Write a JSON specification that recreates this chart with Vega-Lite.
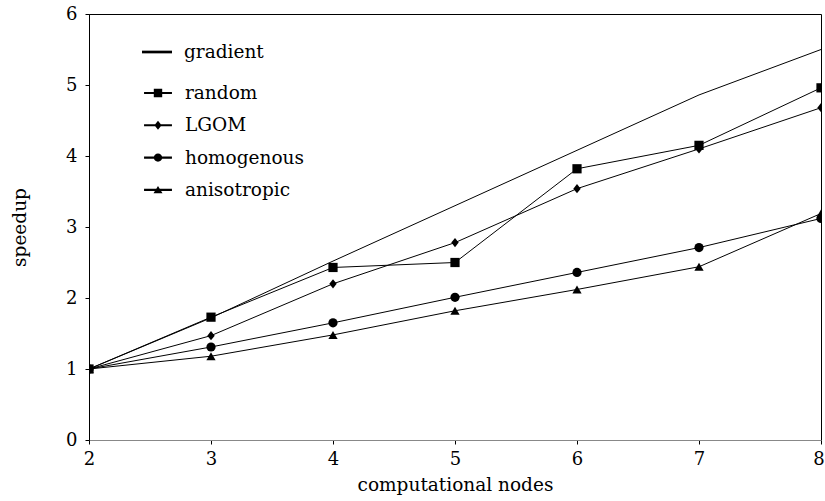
{
  "$schema": "https://vega.github.io/schema/vega-lite/v6.json",
  "width": 732,
  "height": 426,
  "autosize": {"type": "none"},
  "padding": {"left": 89, "top": 14, "right": 4, "bottom": 61},
  "background": "white",
  "config": {
    "view": {"stroke": "black", "strokeWidth": 1},
    "font": "DejaVu Serif",
    "axis": {
      "grid": false,
      "domainColor": "black",
      "tickColor": "black",
      "tickSize": 4,
      "labelColor": "black",
      "labelFont": "DejaVu Serif",
      "labelFontSize": 18,
      "titleFont": "DejaVu Serif",
      "titleFontSize": 18.5,
      "titleFontWeight": "normal",
      "titleColor": "black"
    }
  },
  "data": {
    "values": [
      {"nodes": 2, "speedup": 1.0, "method": "gradient"},
      {"nodes": 3, "speedup": 1.72, "method": "gradient"},
      {"nodes": 4, "speedup": 2.52, "method": "gradient"},
      {"nodes": 5, "speedup": 3.3, "method": "gradient"},
      {"nodes": 6, "speedup": 4.08, "method": "gradient"},
      {"nodes": 7, "speedup": 4.86, "method": "gradient"},
      {"nodes": 8, "speedup": 5.5, "method": "gradient"},
      {"nodes": 2, "speedup": 1.0, "method": "random"},
      {"nodes": 3, "speedup": 1.73, "method": "random"},
      {"nodes": 4, "speedup": 2.43, "method": "random"},
      {"nodes": 5, "speedup": 2.5, "method": "random"},
      {"nodes": 6, "speedup": 3.82, "method": "random"},
      {"nodes": 7, "speedup": 4.15, "method": "random"},
      {"nodes": 8, "speedup": 4.96, "method": "random"},
      {"nodes": 2, "speedup": 1.0, "method": "LGOM"},
      {"nodes": 3, "speedup": 1.47, "method": "LGOM"},
      {"nodes": 4, "speedup": 2.2, "method": "LGOM"},
      {"nodes": 5, "speedup": 2.78, "method": "LGOM"},
      {"nodes": 6, "speedup": 3.54, "method": "LGOM"},
      {"nodes": 7, "speedup": 4.1, "method": "LGOM"},
      {"nodes": 8, "speedup": 4.68, "method": "LGOM"},
      {"nodes": 2, "speedup": 1.0, "method": "homogenous"},
      {"nodes": 3, "speedup": 1.31, "method": "homogenous"},
      {"nodes": 4, "speedup": 1.65, "method": "homogenous"},
      {"nodes": 5, "speedup": 2.01, "method": "homogenous"},
      {"nodes": 6, "speedup": 2.36, "method": "homogenous"},
      {"nodes": 7, "speedup": 2.71, "method": "homogenous"},
      {"nodes": 8, "speedup": 3.12, "method": "homogenous"},
      {"nodes": 2, "speedup": 1.0, "method": "anisotropic"},
      {"nodes": 3, "speedup": 1.18, "method": "anisotropic"},
      {"nodes": 4, "speedup": 1.48, "method": "anisotropic"},
      {"nodes": 5, "speedup": 1.82, "method": "anisotropic"},
      {"nodes": 6, "speedup": 2.12, "method": "anisotropic"},
      {"nodes": 7, "speedup": 2.44, "method": "anisotropic"},
      {"nodes": 8, "speedup": 3.19, "method": "anisotropic"}
    ]
  },
  "encoding": {
    "x": {
      "field": "nodes", "type": "quantitative",
      "scale": {"domain": [2, 8], "nice": false},
      "axis": {"values": [2, 3, 4, 5, 6, 7, 8], "title": "computational nodes", "domainColor": "#888888", "labelPadding": 6, "titlePadding": 7, "format": "d", "labelFlush": false,
        "labelOffset": {"condition": {"test": "datum.value === 8", "value": -2.5}, "value": 0}}
    },
    "y": {
      "field": "speedup", "type": "quantitative",
      "scale": {"domain": [0, 6], "nice": false},
      "axis": {"values": [0, 1, 2, 3, 4, 5, 6], "title": "speedup", "labelPadding": 8, "titlePadding": 36, "format": "d", "labelFlush": false}
    }
  },
  "layer": [
    {
      "mark": {"type": "line", "color": "black", "strokeWidth": 1, "clip": true},
      "encoding": {"detail": {"field": "method"}}
    },
    {
      "transform": [{"filter": "datum.method !== 'gradient'"}],
      "mark": {"type": "point", "filled": true, "color": "black", "opacity": 1, "size": 85, "clip": true},
      "encoding": {
        "shape": {
          "field": "method", "type": "nominal",
          "scale": {"domain": ["random", "LGOM", "homogenous", "anisotropic"], "range": ["square", "M0,-1L0.8,0L0,1L-0.8,0Z", "circle", "triangle-up"]},
          "legend": null
        }
      }
    },
    {
      "transform": [{"filter": "datum.method !== 'gradient' && datum.speedup < 0"}],
      "mark": {"type": "point", "filled": true, "color": "black", "opacity": 1},
      "encoding": {
        "shape": {
          "field": "method", "type": "nominal",
          "scale": {"domain": ["random", "LGOM", "homogenous", "anisotropic"], "range": [
            "M-0.93,-0.07H0.93V0.07H-0.93Z M-0.28,-0.28H0.28V0.28H-0.28Z",
            "M-0.93,-0.07H0.93V0.07H-0.93Z M0,-0.3L0.24,0L0,0.3L-0.24,0Z",
            "M-0.93,-0.07H0.93V0.07H-0.93Z M-0.28,0A0.28,0.28 0 1,1 0.28,0A0.28,0.28 0 1,1 -0.28,0Z",
            "M-0.93,-0.07H0.93V0.07H-0.93Z M0,-0.26L0.3,0.22L-0.3,0.22Z"
          ]},
          "legend": {
            "title": null, "orient": "none", "legendX": 54, "legendY": 64,
            "padding": 0, "symbolSize": 900, "symbolFillColor": "black", "symbolStrokeWidth": 0, "symbolOpacity": 1,
            "labelFont": "DejaVu Serif", "labelFontSize": 18.5, "labelColor": "black", "labelOffset": 12, "rowPadding": 7.3
          }
        }
      }
    },
    {
      "transform": [{"filter": "datum.method === 'gradient' && datum.speedup < 0"}],
      "mark": {"type": "point", "filled": true, "color": "black", "opacity": 1},
      "encoding": {
        "shape": {
          "field": "method", "type": "nominal",
          "scale": {"domain": ["gradient"], "range": ["M-1,-0.09H1V0.09H-1Z"]},
          "legend": {
            "title": null, "orient": "none", "legendX": 53, "legendY": 23,
            "padding": 0, "symbolSize": 900, "symbolFillColor": "black", "symbolStrokeWidth": 0, "symbolOpacity": 1,
            "labelFont": "DejaVu Serif", "labelFontSize": 18.5, "labelColor": "black", "labelOffset": 12
          }
        }
      }
    }
  ],
  "resolve": {"scale": {"shape": "independent"}, "legend": {"shape": "independent"}}
}
